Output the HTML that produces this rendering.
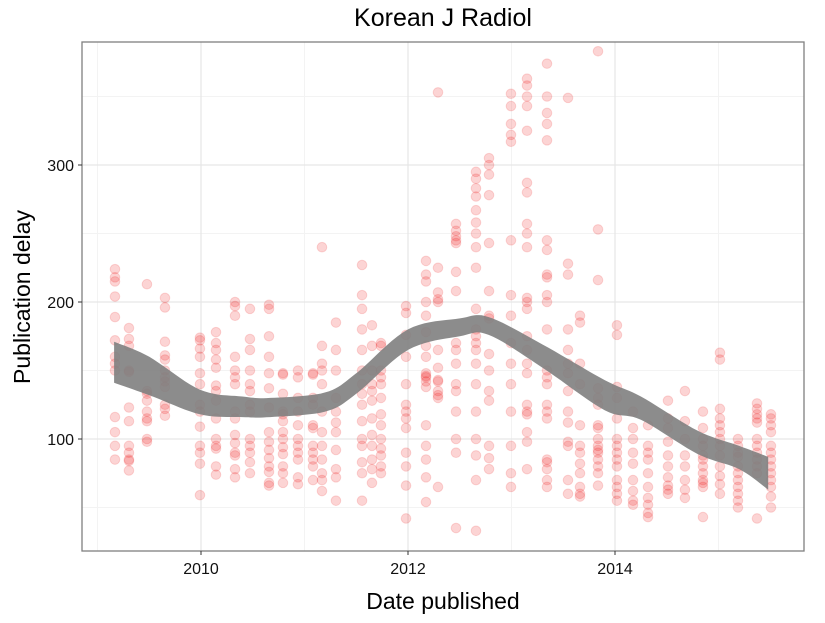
<!DOCTYPE html>
<html><head><meta charset="utf-8"><style>
body{margin:0;background:#fff;font-family:"Liberation Sans",sans-serif}
</style></head><body>
<svg id="chart" width="825" height="618" xmlns="http://www.w3.org/2000/svg" font-family="Liberation Sans, sans-serif"></svg>
<script>
const xTicks=[2010,2012,2014];
const xMinor=[2009,2011,2013,2015];
const yTicks=[100,200,300];
const yMinor=[50,150,250,350];
const colX=[115,129,147,165,200,216,235,250,269,283,298,313,322,336,362,372,381,406,426,438,456,476,489,511,527,547,568,580,598,617,633,648,668,685,703,720,738,757,771];
const colDates=colX.map(x=>+(2010+(x-201)/103.5).toFixed(3));
const colValues=[
[224,218,215,204,189,172,160,155,150,116,105,95,85],
[181,173,168,150,149,123,113,95,90,85,84,77],
[213,135,133,128,120,115,113,100,98],
[203,196,171,161,158,150,145,142,138,125,122,117],
[174,172,166,160,148,140,125,120,109,95,90,82,59],
[178,170,165,158,152,139,135,128,115,100,95,93,80,74],
[200,197,190,160,150,145,140,120,115,103,97,90,88,78,72],
[195,173,165,150,140,135,125,120,100,95,90,83,75],
[198,195,175,160,148,137,123,105,98,92,86,80,76,68,66],
[148,147,133,120,118,113,105,100,94,89,80,75,68],
[150,145,130,120,110,100,95,90,85,72,67],
[148,147,130,125,110,108,95,90,85,80,70],
[240,168,155,150,140,120,105,95,85,75,70,62],
[185,165,150,130,120,112,105,92,78,72,55],
[227,205,195,180,165,150,140,133,125,113,100,95,83,75,55],
[183,168,150,140,135,128,115,103,95,85,78,68],
[170,168,150,145,140,130,118,110,100,93,88,80,75],
[197,192,176,160,140,125,120,115,108,90,80,66,42],
[230,220,215,200,190,178,168,160,148,146,145,142,138,110,95,85,72,54],
[353,225,207,202,200,165,152,143,142,135,132,130,65],
[257,252,248,245,243,222,208,170,165,155,140,135,120,100,90,35],
[295,290,283,277,267,258,250,240,225,195,180,175,170,165,155,140,120,100,88,70,33],
[305,300,293,278,243,208,190,188,162,150,135,128,95,86,78],
[352,343,330,322,317,245,205,190,170,155,140,120,95,75,65],
[363,358,350,343,325,287,280,257,250,240,203,200,195,175,165,155,148,125,120,118,105,98,78],
[374,350,338,330,318,245,238,220,218,205,200,180,150,145,140,125,120,115,85,83,78,70,65],
[349,228,220,180,165,155,148,135,120,112,98,95,70,60],
[190,185,155,140,110,95,90,82,75,65,60,58],
[383,253,216,137,130,125,110,108,100,95,92,90,85,80,75,66],
[183,176,138,130,115,100,95,90,85,80,70,65,60,55],
[120,108,100,90,82,70,62,55,52],
[110,95,90,85,75,65,57,52,46,43],
[128,115,108,98,88,80,72,66,63,60],
[135,113,100,88,80,70,63,57],
[120,108,100,95,88,85,80,75,70,68,65,43],
[163,158,122,115,110,105,100,95,88,80,73,67,60],
[100,95,90,87,80,75,70,65,60,55,50],
[126,122,118,115,112,100,95,90,85,80,75,42],
[118,115,110,105,95,90,85,80,75,70,65,58,50]
];
const bandDates=[2009.16,2009.5,2009.99,2010.4,2010.67,2011.2,2011.5,2012.0,2012.5,2012.78,2013.3,2013.9,2014.25,2014.8,2015.2,2015.48];
const bandLo=[141,132,118,116,116,120,133,165,175,176,152,121,114,89,78,63];
const bandHi=[171,160,136,131,130,134,148,180,188,189,169,143,131,106,95,87];

const L=82,R=804,T=42,B=551;
const xs=d=>201+(d-2010)*103.5;
const ys=v=>576-v*1.37;
const svg=document.getElementById('chart');
const NS='http://www.w3.org/2000/svg';
function mk(tag,attrs,parent){const e=document.createElementNS(NS,tag);for(const k in attrs)e.setAttribute(k,attrs[k]);(parent||svg).appendChild(e);return e;}

const grid=mk('g',{});


xMinor.forEach(d=>mk('line',{x1:xs(d),x2:xs(d),y1:T,y2:B,stroke:'#f3f3f3','stroke-width':1},grid));
yMinor.forEach(v=>mk('line',{x1:L,x2:R,y1:ys(v),y2:ys(v),stroke:'#f3f3f3','stroke-width':1},grid));
xTicks.forEach(d=>mk('line',{x1:xs(d),x2:xs(d),y1:T,y2:B,stroke:'#e6e6e6','stroke-width':1.2},grid));
yTicks.forEach(v=>mk('line',{x1:L,x2:R,y1:ys(v),y2:ys(v),stroke:'#e6e6e6','stroke-width':1.2},grid));

const pts=mk('g',{});


colValues.forEach((vals,i)=>vals.forEach(v=>{
  const c=mk('circle',{cx:xs(colDates[i]),cy:ys(v),r:4.8,fill:'rgba(235,0,0,0.17)',stroke:'rgba(235,0,0,0.14)','stroke-width':1},pts);
  
  
}));

function smoothPts(p){ // catmull-rom sampled
  const out=[];
  for(let i=0;i<p.length-1;i++){
    const p0=p[Math.max(0,i-1)],p1=p[i],p2=p[i+1],p3=p[Math.min(p.length-1,i+2)];
    for(let t=0;t<1;t+=0.1){
      const t2=t*t,t3=t2*t;
      const f=(a,b,c,d)=>0.5*((2*b)+(-a+c)*t+(2*a-5*b+4*c-d)*t2+(-a+3*b-3*c+d)*t3);
      out.push([f(p0[0],p1[0],p2[0],p3[0]),f(p0[1],p1[1],p2[1],p3[1])]);
    }
  }
  out.push(p[p.length-1]);return out;
}
const hi=smoothPts(bandDates.map((d,i)=>[xs(d),ys(bandHi[i])]));
const lo=smoothPts(bandDates.map((d,i)=>[xs(d),ys(bandLo[i])])).reverse();
const dstr='M'+hi.concat(lo).map(p=>p[0].toFixed(1)+','+p[1].toFixed(1)).join('L')+'Z';
const band=mk('path',{d:dstr,fill:'#7f7f7f','fill-opacity':0.9,stroke:'none'});



const frame=mk('rect',{x:L,y:T,width:R-L,height:B-T,fill:'none',stroke:'#7f7f7f','stroke-width':1.3});



xTicks.forEach(d=>{
  mk('line',{x1:xs(d),x2:xs(d),y1:B,y2:B+4,stroke:'#333'});
  const t=mk('text',{x:xs(d),y:B+23,'text-anchor':'middle','font-size':16,fill:'#111'});
  t.textContent=d;
  
  
});
yTicks.forEach(v=>{
  mk('line',{x1:L-4,x2:L,y1:ys(v),y2:ys(v),stroke:'#333'});
  const t=mk('text',{x:L-8,y:ys(v)+6,'text-anchor':'end','font-size':16,fill:'#111'});
  t.textContent=v;
  
  
});
const title=mk('text',{x:443,y:26,'text-anchor':'middle','font-size':25,fill:'#000'});
title.textContent='Korean J Radiol';


const xt=mk('text',{x:443,y:609,'text-anchor':'middle','font-size':23,fill:'#000'});
xt.textContent='Date published';


const yt=mk('text',{x:0,y:0,'text-anchor':'middle','font-size':23,fill:'#000',transform:'translate(30,297) rotate(-90)'});
yt.textContent='Publication delay';


</script>
</body></html>
